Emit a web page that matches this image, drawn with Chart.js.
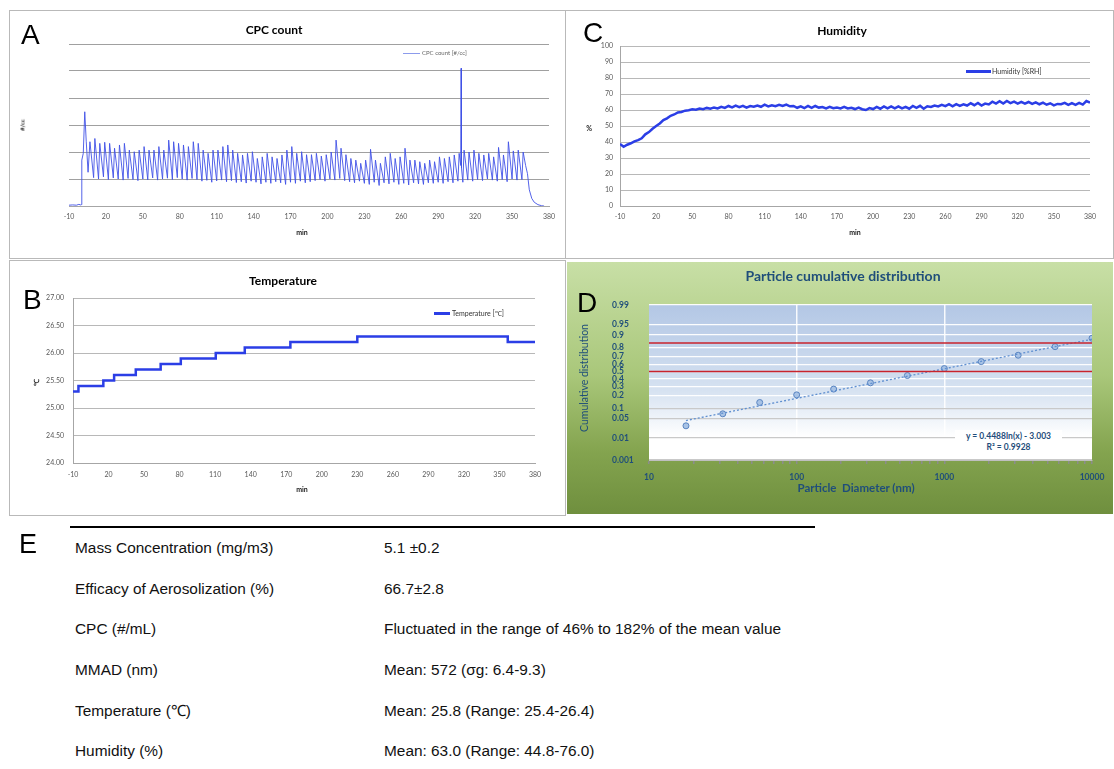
<!DOCTYPE html>
<html>
<head>
<meta charset="utf-8">
<script src="https://cdn.jsdelivr.net/npm/chart.js@4.4.1/dist/chart.umd.min.js"></script>
<style>
  body { margin: 0; background: #fff; width: 1114px; height: 769px; position: relative; overflow: hidden; font-family: 'Liberation Sans', Arial, sans-serif; }
  .box { position: absolute; box-sizing: border-box; }
  .t { position: absolute; transform: translate(-50%, -50%); white-space: nowrap; }
  .rot { position: absolute; transform: translate(-50%, -50%) rotate(-90deg); white-space: nowrap; }
  .letter { position: absolute; font-family: 'Liberation Sans', Arial, sans-serif; font-size: 28px; color: #000; line-height: 1; }
  .ttl { font-family: Lato, sans-serif; font-weight: bold; font-size: 12px; color: #000; }
  .ax { font-family: Lato, sans-serif; font-weight: bold; font-size: 7px; color: #222; }
  .leg { position: absolute; font-family: Lato, sans-serif; font-size: 7px; color: #333; white-space: nowrap; }
  .sw { position: absolute; }
  table { position: absolute; left: 70px; top: 526px; border-collapse: collapse; border-top: 2px solid #000; width: 745px; }
  td { font-family: 'Liberation Sans', Arial, sans-serif; font-size: 15.4px; color: #111; height: 40.6px; padding: 0; vertical-align: middle; }
  td.k { padding-left: 5px; width: 309px; }
</style>
</head>
<body>

<!-- A: CPC count -->
<div class="box" style="left:9px;top:10px;width:557px;height:249px;border:1.5px solid #b9b9b9;"></div>
<canvas id="cpc" width="555" height="248" style="position:absolute;left:10px;top:10px;"></canvas>
<div class="letter" style="left:21px;top:21px;">A</div>
<div class="t ttl" style="left:274px;top:29px;">CPC count</div>
<div class="sw" style="left:403px;top:53px;width:17px;height:1px;background:#8c9bec;"></div>
<div class="leg" style="left:422px;top:49px;font-size:6px;color:#666;">CPC count [#/cc]</div>
<div class="rot ax" style="left:22px;top:125px;font-size:6px;">#/cc</div>
<div class="t ax" style="left:302px;top:232px;">min</div>

<!-- C: Humidity -->
<div class="box" style="left:565px;top:10px;width:549px;height:249px;border:1.5px solid #b9b9b9;border-left:none;"></div>
<canvas id="hum" width="549" height="248" style="position:absolute;left:565px;top:10px;"></canvas>
<div class="t ttl" style="left:842px;top:30px;">Humidity</div>
<div class="sw" style="left:966px;top:70px;width:25px;height:2.5px;background:#2b3ee6;"></div>
<div class="leg" style="left:992px;top:67px;">Humidity [%RH]</div>
<div class="t ax" style="left:589px;top:128px;">%</div>
<div class="t ax" style="left:855px;top:232px;">min</div>
<div class="letter" style="left:583px;top:19px;">C</div>

<!-- B: Temperature -->
<div class="box" style="left:9px;top:260px;width:557px;height:256px;border:1.5px solid #b9b9b9;"></div>
<canvas id="temp" width="555" height="254" style="position:absolute;left:10px;top:261px;"></canvas>
<div class="letter" style="left:23px;top:286px;">B</div>
<div class="t ttl" style="left:283px;top:280px;">Temperature</div>
<div class="sw" style="left:434px;top:312px;width:16px;height:2.5px;background:#2b3ee6;"></div>
<div class="leg" style="left:452px;top:309px;">Temperature [&#8451;]</div>
<div class="rot ax" style="left:36px;top:382px;">&#8451;</div>
<div class="t ax" style="left:302px;top:489px;">min</div>

<!-- D: Particle cumulative distribution -->
<div class="box" style="left:567px;top:262px;width:546px;height:252px;background:linear-gradient(180deg,#c8dfa6 0%,#a9c77a 45%,#84a44f 75%,#6f8f3e 100%);"></div>
<canvas id="dist" width="546" height="252" style="position:absolute;left:567px;top:262px;"></canvas>
<div class="letter" style="left:577px;top:289px;">D</div>
<div class="t" style="left:843px;top:275px;font-family:Lato,sans-serif;font-weight:bold;font-size:14px;color:#1f4e7a;">Particle cumulative distribution</div>
<div class="rot" style="left:584px;top:378px;font-family:Lato,sans-serif;font-size:10.5px;color:#1f4e7a;">Cumulative distribution</div>
<div class="t" style="left:856px;top:487px;font-family:Lato,sans-serif;font-weight:bold;font-size:11.5px;color:#1f4e7a;">Particle&nbsp; Diameter (nm)</div>
<div style="position:absolute;left:955px;top:430px;width:107px;height:24px;background:#fff;font-family:Lato,sans-serif;font-weight:bold;font-size:8.5px;color:#1f4e7a;text-align:center;line-height:11px;padding-top:1px;box-sizing:border-box;">
  <span id="eq1"></span><br><span id="eq2"></span>
</div>

<!-- E: summary table -->
<div class="letter" style="left:19px;top:531px;font-size:27px;">E</div>
<table>
  <tr><td class="k">Mass Concentration (mg/m3)</td><td>5.1 &plusmn;0.2</td></tr>
  <tr><td class="k">Efficacy of Aerosolization (%)</td><td>66.7&plusmn;2.8</td></tr>
  <tr><td class="k">CPC (#/mL)</td><td>Fluctuated in the range of 46% to 182% of the mean value</td></tr>
  <tr><td class="k">MMAD (nm)</td><td>Mean: 572 (&sigma;g: 6.4-9.3)</td></tr>
  <tr><td class="k">Temperature (&#8451;)</td><td>Mean: 25.8 (Range: 25.4-26.4)</td></tr>
  <tr><td class="k">Humidity (%)</td><td>Mean: 63.0 (Range: 44.8-76.0)</td></tr>
</table>

<script>
// ============ DATA ============
const minuteTicks = [-10, 20, 50, 80, 110, 140, 170, 200, 230, 260, 290, 320, 350, 380];
const cpcTicks = [0, 100, 200, 300, 400, 500, 600];
const humTicks = [0, 10, 20, 30, 40, 50, 60, 70, 80, 90, 100];
const tempTicks = [24.0, 24.5, 25.0, 25.5, 26.0, 26.5, 27.0];

// CPC count [#/cc] (arbitrary units, no tick labels in source) as [min, count]
const cpcSeries = [
  [-10,3],[-7,4],[-4,3],[-2,6],[-0.5,4],[0,5],[0.4,170],[1.6,195],[2.8,349],[4,240],[5.5,125],
  [7,238],[10,105],[11,250],[14,100],[15,232],[18,108],[19,236],[22,98],[23,232],[26,104],
  [27,214],[30,100],[31,226],[34,96],[35,232],[38,102],[39,207],[42,98],[43,201],[46,94],
  [47,207],[50,100],[51,220],[54,97],[55,207],[58,104],[59,207],[62,96],[63,220],[66,100],
  [67,207],[70,103],[71,244],[74,98],[75,238],[78,105],[79,232],[82,100],[83,226],[86,96],
  [87,220],[90,102],[91,238],[94,98],[95,232],[98,92],[99,207],[102,95],[103,195],[106,88],
  [107,207],[110,93],[111,207],[114,96],[115,220],[118,90],[119,226],[122,94],[123,207],[126,87],
  [127,195],[130,90],[131,189],[134,85],[135,195],[138,92],[139,201],[142,88],[143,176],[146,82],
  [147,182],[150,88],[151,195],[154,84],[155,182],[158,90],[159,176],[162,86],[163,189],[166,80],
  [167,207],[170,88],[171,220],[174,84],[175,195],[178,92],[179,201],[182,86],[183,190],[186,90],
  [187,190],[190,94],[191,195],[194,98],[195,185],[198,92],[199,190],[202,100],[203,200],[206,96],
  [207,244],[210,102],[211,214],[214,94],[215,190],[218,90],[219,176],[222,86],[223,170],[226,92],
  [227,158],[230,84],[231,170],[234,80],[235,210],[238,88],[239,170],[242,76],[243,158],[246,86],
  [247,182],[250,82],[251,195],[254,88],[255,176],[258,80],[259,182],[262,84],[263,214],[266,78],
  [267,170],[270,86],[271,170],[274,82],[275,164],[278,80],[279,158],[282,86],[283,170],[286,84],
  [287,164],[290,88],[291,182],[294,84],[295,176],[298,90],[299,182],[302,86],[303,189],[306,92],
  [307,195],[308.3,150],[308.6,510],[308.9,140],[310,88],
  [311,207],[314,96],[315,200],[318,92],[319,207],[322,98],[323,195],[326,94],[327,189],[330,100],
  [331,195],[334,96],[335,182],[338,92],[339,217],[342,98],[343,189],[346,90],[347,238],[350,100],
  [351,204],[354,96],[355,207],[358,98],[359,200],
  [361,150],[362.5,120],[364,60],[366,28],[368,14],[371,5],[374,1],[376,0]
];

// Humidity [%RH] as [min, %]
const humSeries = [
  [-10,38.8],[-7,37.0],[-4,38.3],[-1,39.2],[2,40.4],[5,41.2],[8,42.3],[11,44.8],[14,46.2],[17,48.3],
  [20,50.0],[23,51.6],[26,53.7],[29,54.8],[32,56.4],[35,57.2],[38,58.5],[41,58.8],[44,59.6],[47,59.8],
  [50,60.4],[53,60.2],[56,60.9],[59,60.5],[62,61.3],[65,60.8],[68,61.6],[71,61.0],[74,62.0],[77,61.3],
  [80,62.5],[83,61.6],[86,62.7],[89,61.8],[92,62.6],[95,61.5],[98,62.5],[101,62.0],[104,62.8],[107,62.0],
  [110,63.3],[113,62.2],[116,63.0],[119,62.4],[122,63.3],[125,62.5],[128,63.4],[131,62.3],[134,62.5],[137,61.4],
  [140,62.3],[143,61.2],[146,62.5],[149,61.3],[152,62.5],[155,61.5],[158,61.8],[161,61.0],[164,62.0],[167,61.1],
  [170,61.6],[173,61.0],[176,62.0],[179,61.0],[182,61.4],[185,60.6],[188,61.5],[191,60.5],[194,60.0],[197,61.2],
  [200,60.6],[203,61.9],[206,60.8],[209,62.2],[212,61.0],[215,62.2],[218,61.0],[221,62.3],[224,61.0],[227,62.0],
  [230,60.8],[233,62.5],[236,61.4],[239,62.6],[242,60.8],[245,62.3],[248,61.9],[251,62.8],[254,62.2],[257,63.2],
  [260,62.4],[263,63.6],[266,62.3],[269,63.7],[272,62.6],[275,63.6],[278,62.8],[281,64.3],[284,63.0],[287,64.4],
  [290,62.8],[293,64.0],[296,63.5],[299,65.2],[302,64.0],[305,65.5],[308,64.0],[311,65.6],[314,64.3],[317,65.2],
  [320,64.0],[323,65.1],[326,64.0],[329,65.0],[332,63.8],[335,64.8],[338,63.6],[341,64.6],[344,63.3],[347,64.2],
  [350,62.9],[353,63.8],[356,63.6],[359,64.5],[362,63.2],[365,64.3],[368,63.2],[371,64.4],[374,63.4],[377,65.6],
  [380,64.6]
];

// Temperature [°C] step changes as [min, °C]
const tempSeries = [
  [-10,25.3],[-5.4,25.4],[15.6,25.5],[24.7,25.6],[43,25.7],[64,25.8],[81,25.9],
  [110.5,26.0],[135,26.1],[173.5,26.2],[230,26.3],[357,26.2],[380,26.2]
];

// Particle cumulative distribution
const diameters = [17.8, 31.6, 56.2, 100, 178, 316, 562, 1000, 1778, 3162, 5623, 10000];
const cumFraction = [0.029, 0.070, 0.140, 0.208, 0.270, 0.347, 0.445, 0.542, 0.636, 0.716, 0.808, 0.878];
const probTicks = [0.001, 0.01, 0.05, 0.1, 0.2, 0.3, 0.4, 0.5, 0.6, 0.7, 0.8, 0.9, 0.95, 0.99];
const refLevels = [0.5, 0.84];
const diamMajor = [10, 100, 1000, 10000];
const diamMinor = [20,30,40,50,60,70,80,90,200,300,400,500,600,700,800,900,2000,3000,4000,5000,6000,7000,8000,9000];
const fitSlope = 0.4488, fitIntercept = -3.003, fitR2 = 0.9928;

// ============ HELPERS ============
Chart.defaults.font.family = 'Lato, sans-serif';
Chart.defaults.animation = false;

const toXY = arr => arr.map(p => ({ x: p[0], y: p[1] }));
const fixSize = size => scale => { if (scale.isHorizontal()) scale.height = size; else scale.width = size; };
const setTicks = vals => scale => { scale.ticks = vals.map(v => ({ value: v })); };

// inverse normal CDF (Acklam) for the probability axis
function probit(p) {
  const a = [-39.69683028665376, 220.9460984245205, -275.9285104469687, 138.357751867269, -30.66479806614716, 2.506628277459239];
  const b = [-54.47609879822406, 161.5858368580409, -155.6989798598866, 66.80131188771972, -13.28068155211027];
  const c = [-0.007784894002430293, -0.3223964580411365, -2.400758277161838, -2.549732539343734, 4.374664141464968, 2.938163982698783];
  const d = [0.007784695709041462, 0.3224671290700398, 2.445134137142996, 3.754408661907416];
  const pl = 0.02425;
  let q, r;
  if (p < pl) {
    q = Math.sqrt(-2 * Math.log(p));
    return (((((c[0]*q+c[1])*q+c[2])*q+c[3])*q+c[4])*q+c[5]) / ((((d[0]*q+d[1])*q+d[2])*q+d[3])*q+1);
  }
  if (p <= 1 - pl) {
    q = p - 0.5; r = q * q;
    return (((((a[0]*r+a[1])*r+a[2])*r+a[3])*r+a[4])*r+a[5])*q / (((((b[0]*r+b[1])*r+b[2])*r+b[3])*r+b[4])*r+1);
  }
  q = Math.sqrt(-2 * Math.log(1 - p));
  return -(((((c[0]*q+c[1])*q+c[2])*q+c[3])*q+c[4])*q+c[5]) / ((((d[0]*q+d[1])*q+d[2])*q+d[3])*q+1);
}

const noPlugins = { legend: { display: false }, title: { display: false }, tooltip: { enabled: false } };

function timeAxis(fitH, pad) {
  return {
    type: 'linear', min: -10, max: 380,
    afterBuildTicks: setTicks(minuteTicks), afterFit: fixSize(fitH),
    grid: { display: false, drawTicks: false },
    border: { display: true, color: '#a6a6a6', width: 1 },
    ticks: { font: { size: 7 }, color: '#595959', padding: pad, maxRotation: 0, autoSkip: false }
  };
}

// ============ A. CPC COUNT ============
new Chart(document.getElementById('cpc'), {
  type: 'line',
  data: { datasets: [{ data: toXY(cpcSeries), borderColor: '#4151e6', borderWidth: 0.9, pointRadius: 0, tension: 0 }] },
  options: {
    responsive: false, plugins: noPlugins,
    layout: { padding: { left: 0, top: 34, right: 16, bottom: 0 } },
    scales: {
      x: timeAxis(52, 7),
      y: {
        min: 0, max: 600, afterBuildTicks: setTicks(cpcTicks), afterFit: fixSize(59),
        grid: { color: '#a0a0a0', lineWidth: 1, drawTicks: false },
        border: { display: false },
        ticks: { display: false }
      }
    }
  }
});

// ============ C. HUMIDITY ============
new Chart(document.getElementById('hum'), {
  type: 'line',
  data: { datasets: [{ data: toXY(humSeries), borderColor: '#2b3ee6', borderWidth: 2.5, pointRadius: 0, tension: 0 }] },
  options: {
    responsive: false, plugins: noPlugins,
    layout: { padding: { left: 0, top: 36, right: 24, bottom: 0 } },
    scales: {
      x: timeAxis(52, 7),
      y: {
        min: 0, max: 100, afterBuildTicks: setTicks(humTicks), afterFit: fixSize(55),
        grid: { color: '#b8b8b8', lineWidth: 1, drawTicks: false },
        border: { display: true, color: '#a6a6a6' },
        ticks: { font: { size: 7 }, color: '#595959', padding: 7, autoSkip: false }
      }
    }
  }
});

// ============ B. TEMPERATURE ============
new Chart(document.getElementById('temp'), {
  type: 'line',
  data: { datasets: [{ data: toXY(tempSeries), stepped: 'before', borderColor: '#2b3ee6', borderWidth: 2.5, pointRadius: 0 }] },
  options: {
    responsive: false, plugins: noPlugins,
    layout: { padding: { left: 0, top: 37, right: 30, bottom: 0 } },
    scales: {
      x: timeAxis(52, 8),
      y: {
        min: 24, max: 27, afterBuildTicks: setTicks(tempTicks), afterFit: fixSize(63),
        grid: { color: '#b8b8b8', lineWidth: 1, drawTicks: false },
        border: { display: true, color: '#a6a6a6' },
        ticks: { font: { size: 7 }, color: '#595959', padding: 9, autoSkip: false, callback: v => v.toFixed(2) }
      }
    }
  }
});

// ============ D. CUMULATIVE DISTRIBUTION ============
const plotBg = {
  id: 'plotBg',
  beforeDraw(chart) {
    const { ctx, chartArea: a } = chart;
    const g = ctx.createLinearGradient(0, a.top, 0, a.bottom);
    g.addColorStop(0, '#b3c7e5');
    g.addColorStop(0.55, '#d6e2f1');
    g.addColorStop(0.85, '#ffffff');
    g.addColorStop(1, '#ffffff');
    ctx.save();
    ctx.fillStyle = g;
    ctx.fillRect(a.left, a.top, a.right - a.left, a.bottom - a.top);
    ctx.restore();
  }
};

const fitLine = [diameters[0], diamMajor[diamMajor.length - 1]].map(x => ({ x: x, y: fitSlope * Math.log(x) + fitIntercept }));
const refSets = refLevels.map(l => ({
  data: [{ x: diamMajor[0], y: probit(l) }, { x: diamMajor[diamMajor.length - 1], y: probit(l) }],
  showLine: true, borderColor: '#c8232c', borderWidth: 1.5, pointRadius: 0
}));

new Chart(document.getElementById('dist'), {
  type: 'scatter',
  data: {
    datasets: [
      ...refSets,
      { data: fitLine, showLine: true, borderColor: '#5f8fd0', borderWidth: 1.3, borderDash: [2, 2], pointRadius: 0 },
      { data: diameters.map((x, i) => ({ x: x, y: probit(cumFraction[i]) })),
        pointRadius: 3, pointBackgroundColor: '#a8c3e6', pointBorderColor: '#5a85c2', pointBorderWidth: 1 }
    ]
  },
  options: {
    responsive: false, plugins: noPlugins,
    layout: { padding: { left: 45, top: 43, right: 21, bottom: 0 } },
    scales: {
      x: {
        type: 'logarithmic', min: 10, max: 10000,
        afterBuildTicks: setTicks(diamMajor.concat(diamMinor).sort((a, b) => a - b)), afterFit: fixSize(54),
        grid: {
          color: c => (c.tick && diamMajor.includes(c.tick.value) && c.tick.value > 10 && c.tick.value < 10000) ? 'rgba(255,255,255,0.9)' : 'rgba(0,0,0,0)',
          lineWidth: 1.5, drawTicks: true, tickLength: 4, tickColor: '#8c8c8c'
        },
        border: { display: true, color: '#bfbfbf' },
        ticks: { font: { size: 8.5, weight: 'bold' }, color: '#1f4e7a', padding: 8, maxRotation: 0, autoSkip: false,
                 callback: v => diamMajor.includes(v) ? String(v) : '' }
      },
      y: {
        min: probit(probTicks[0]), max: probit(probTicks[probTicks.length - 1]),
        afterBuildTicks: setTicks(probTicks.map(probit)), afterFit: fixSize(37),
        grid: { color: c => (c.tick && c.tick.value < -1.1) ? '#c9c9c9' : 'rgba(255,255,255,0.95)', lineWidth: 1.3, drawTicks: false },
        border: { display: false },
        ticks: { font: { size: 8.5, weight: 'bold' }, color: '#1f4e7a', crossAlign: 'far', padding: 0, autoSkip: false,
                 callback: (v, i) => String(probTicks[i]) }
      }
    }
  },
  plugins: [plotBg]
});

document.getElementById('eq1').textContent = 'y = ' + fitSlope + 'ln(x) - ' + Math.abs(fitIntercept).toFixed(3);
document.getElementById('eq2').textContent = 'R\u00b2 = ' + fitR2;
</script>
</body>
</html>
